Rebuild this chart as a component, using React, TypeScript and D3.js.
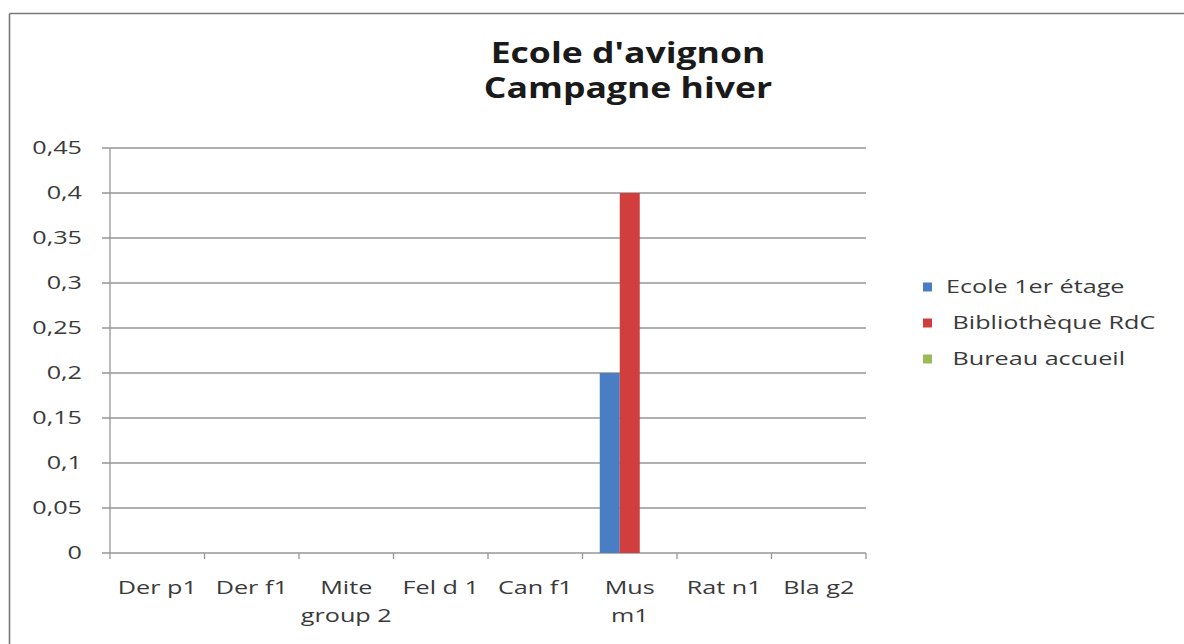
import React from "react";
import * as d3 from "d3";

const titleLines = ["Ecole d'avignon", "Campagne hiver"];
const categories = ["Der p1", "Der f1", "Mite group 2", "Fel d 1", "Can f1", "Mus m1", "Rat n1", "Bla g2"];
const wrappedLabels: Record<string, string[]> = {
  "Mite group 2": ["Mite", "group 2"],
  "Mus m1": ["Mus", "m1"],
};
const seriesNames = ["Ecole 1er étage", " Bibliothèque RdC", " Bureau accueil"];
const seriesColors = ["#4A7EC4", "#D03F3D", "#9BBB59"];
const ecoleValues = [0, 0, 0, 0, 0, 0.2, 0, 0];
const biblioValues = [0, 0, 0, 0, 0, 0.4, 0, 0];
const bureauValues = [0, 0, 0, 0, 0, 0, 0, 0];
const yTicks = [0, 0.05, 0.1, 0.15, 0.2, 0.25, 0.3, 0.35, 0.4, 0.45];

const W = 1184;
const H = 644;
const plot = { left: 110, right: 866, top: 148, bottom: 553 };
const SX = 1.4;
const FONT = "'Open Sans', sans-serif";

export default function App() {
  const seriesValues = [ecoleValues, biblioValues, bureauValues];
  const x = d3.scaleBand<string>().domain(categories).range([plot.left, plot.right]).paddingInner(0).paddingOuter(0);
  const xs = d3
    .scaleBand<number>()
    .domain(seriesNames.map((_, i) => i))
    .range([0, x.bandwidth()])
    .paddingInner(0)
    .paddingOuter(0.8625);
  const y = d3.scaleLinear().domain([0, 0.45]).range([plot.bottom, plot.top]);
  const fmt = (v: number) => d3.format("~g")(+v.toFixed(2)).replace(".", ",");
  const boundaries = categories.map((c) => x(c)!).concat([plot.right]);

  const stretchText = (
    key: string | number,
    tx: number,
    ty: number,
    content: string,
    opts: { anchor?: string; size?: number; weight?: string | number; fill?: string; sx?: number } = {}
  ) => (
    <text
      key={key}
      transform={`translate(${tx},${ty}) scale(${opts.sx ?? SX},1)`}
      textAnchor={opts.anchor ?? "start"}
      fontFamily={FONT}
      fontSize={opts.size ?? 18}
      fontWeight={opts.weight ?? 400}
      fill={opts.fill ?? "#3a3a3a"}
      style={{ whiteSpace: "pre" }}
    >
      {content}
    </text>
  );

  return (
    <div style={{ position: "absolute", left: 0, top: 0 }}>
      <svg width={W} height={H} style={{ display: "block", background: "#fff" }}>
        <rect x={0} y={0} width={W} height={H} fill="#fff" />
        {/* outer chart border */}
        <line x1={9.5} y1={13.5} x2={W} y2={13.5} stroke="#7a7a7a" strokeWidth={1.6} />
        <line x1={9.5} y1={13.5} x2={9.5} y2={H} stroke="#7a7a7a" strokeWidth={1.6} />

        {/* title */}
        {titleLines.map((t, i) =>
          stretchText("t" + i, 628, 63 + i * 35, t, { anchor: "middle", size: 28, weight: 700, fill: "#1a1a1a", sx: 1.27 })
        )}

        {/* gridlines */}
        {yTicks.map((t) => (
          <line
            key={"g" + t}
            x1={plot.left - 8}
            x2={plot.right}
            y1={y(t)}
            y2={y(t)}
            stroke="#969696"
            strokeWidth={1.3}
          />
        ))}
        {/* y axis */}
        <line x1={plot.left} x2={plot.left} y1={plot.top} y2={plot.bottom} stroke="#969696" strokeWidth={1.3} />
        {yTicks.map((t) => stretchText("yl" + t, 82, y(t) + 6, fmt(t), { anchor: "end" }))}

        {/* x ticks */}
        {boundaries.map((b, i) => (
          <line key={"xt" + i} x1={b} x2={b} y1={plot.bottom} y2={plot.bottom + 6} stroke="#969696" strokeWidth={1.3} />
        ))}

        {/* bars */}
        {seriesValues.map((vals, si) =>
          vals.map((v, ci) =>
            v > 0 ? (
              <rect
                key={`b${si}-${ci}`}
                x={x(categories[ci])! + xs(si)!}
                y={y(v)}
                width={xs.bandwidth()}
                height={y(0) - y(v)}
                fill={seriesColors[si]}
              />
            ) : null
          )
        )}

        {/* x labels */}
        {categories.map((c) => {
          const lines = wrappedLabels[c] ?? [c];
          const cx = x(c)! + x.bandwidth() / 2;
          return lines.map((l, li) => stretchText(`xl${c}${li}`, cx, 594 + li * 28, l, { anchor: "middle" }));
        })}

        {/* legend */}
        {seriesNames.map((n, i) => {
          const cy = 287 + i * 36;
          return (
            <g key={"lg" + i}>
              <rect x={923} y={cy - 4.5} width={9} height={9} fill={seriesColors[i]} />
              {stretchText("lt" + i, 946, cy + 6, n, { size: 18 })}
            </g>
          );
        })}
      </svg>
    </div>
  );
}
